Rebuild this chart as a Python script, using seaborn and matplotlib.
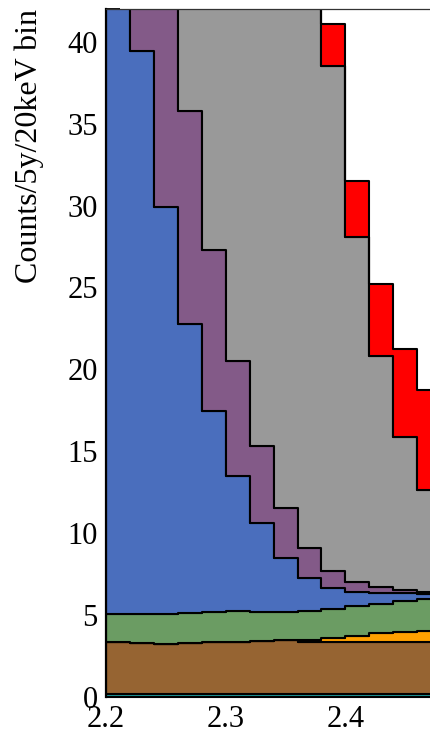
import numpy as np
import pandas as pd
import matplotlib
matplotlib.use("Agg")
import matplotlib.pyplot as plt
from matplotlib.ticker import MultipleLocator, FormatStrFormatter
import seaborn as sns

# Bin edges of the reconstructed energy (MeV), 20 keV wide
bin_edges = [2.20, 2.22, 2.24, 2.26, 2.28, 2.30, 2.32, 2.34,
             2.36, 2.38, 2.40, 2.42, 2.44, 2.46, 2.48]

# Expected counts per bin for each stacked component (top of stack first)
signal = [0.03, 0.05, 0.10, 0.20, 0.30, 0.50, 0.80, 1.20,
          1.80, 2.55, 3.46, 4.40, 5.35, 6.11]
two_nu = [680.0, 500.0, 365.0, 265.0, 190.0, 135.0, 95.0, 66.0,
          45.0, 30.83, 21.03, 14.12, 9.37, 6.21]
purple_bkg = [28.0, 22.0, 17.0, 12.97, 9.83, 7.03, 4.73, 3.05,
              1.83, 1.04, 0.61, 0.33, 0.20, 0.14]
blue_bkg = [48.0, 34.40, 24.85, 17.63, 12.26, 8.24, 5.39, 3.30,
            1.98, 1.28, 0.87, 0.67, 0.45, 0.28]
green_bkg = [1.69, 1.73, 1.83, 1.87, 1.87, 1.89, 1.77, 1.71,
             1.81, 1.78, 1.83, 1.81, 1.91, 1.98]
orange_bkg = [0.0, 0.0, 0.0, 0.0, 0.0, 0.0, 0.0, 0.04,
              0.12, 0.28, 0.39, 0.55, 0.63, 0.69]
brown_bkg = [3.18, 3.12, 3.06, 3.08, 3.14, 3.18, 3.24, 3.26,
             3.14, 3.14, 3.14, 3.14, 3.14, 3.14]
teal_bkg = [0.20, 0.20, 0.20, 0.20, 0.20, 0.20, 0.20, 0.20,
            0.20, 0.20, 0.20, 0.20, 0.20, 0.20]

components = {
    "signal": signal,
    "two_nu": two_nu,
    "purple": purple_bkg,
    "blue": blue_bkg,
    "green": green_bkg,
    "orange": orange_bkg,
    "brown": brown_bkg,
    "teal": teal_bkg,
}
colors = {
    "signal": "#FF0000",
    "two_nu": "#999999",
    "purple": "#835A88",
    "blue": "#4A6EBD",
    "green": "#6B9C63",
    "orange": "#FFA000",
    "brown": "#966432",
    "teal": "#1FA0A0",
}

centers = [(lo + hi) / 2 for lo, hi in zip(bin_edges[:-1], bin_edges[1:])]
rows = []
for name, counts in components.items():
    for c, w in zip(centers, counts):
        rows.append({"energy": c, "counts": w, "component": name})
df = pd.DataFrame(rows)

sns.set_theme(style="ticks")
plt.rcParams["font.family"] = ["Liberation Serif", "DejaVu Serif"]

fig = plt.figure(figsize=(4.30, 7.34), dpi=100)
ax = fig.add_axes([106 / 430, 37 / 734, 324 / 430, 688 / 734])

# Stacked histogram: the last hue level sits at the bottom of the stack
sns.histplot(data=df, x="energy", weights="counts", hue="component",
             hue_order=list(components.keys()), palette=colors,
             multiple="stack", element="step", bins=bin_edges,
             alpha=1, edgecolor="black", linewidth=1.5,
             legend=False, ax=ax)

ax.set_xlim(2.2, 2.2 + 324 / 1197)
ax.set_ylim(0, 42)

ax.xaxis.set_major_locator(MultipleLocator(0.1))
ax.xaxis.set_minor_locator(MultipleLocator(0.02))
ax.xaxis.set_major_formatter(FormatStrFormatter("%.1f"))
ax.yaxis.set_major_locator(MultipleLocator(5))
ax.yaxis.set_minor_locator(MultipleLocator(1))
ax.yaxis.set_major_formatter(FormatStrFormatter("%d"))

ax.tick_params(axis="both", which="both", direction="in", top=False,
               right=False, labelsize=22, width=1.3, color="black",
               labelcolor="black")
ax.tick_params(axis="y", which="major", length=21, pad=6)
ax.tick_params(axis="y", which="minor", length=10)
ax.tick_params(axis="x", which="major", length=13, pad=6)
ax.tick_params(axis="x", which="minor", length=6)

ax.spines["left"].set_linewidth(1.6)
ax.spines["left"].set_color("black")
ax.spines["bottom"].set_linewidth(0.8)
ax.spines["bottom"].set_color("black")
ax.spines["top"].set_linewidth(0.9)
ax.spines["top"].set_color("#333333")
ax.spines["right"].set_visible(False)

ax.set_xlabel("")
ax.set_ylabel("Counts/5y/20keV bin", fontsize=23, loc="top", color="black")
ax.yaxis.set_label_coords(-0.191, 1.0)

fig.savefig("out.png", dpi=100, facecolor="white")
